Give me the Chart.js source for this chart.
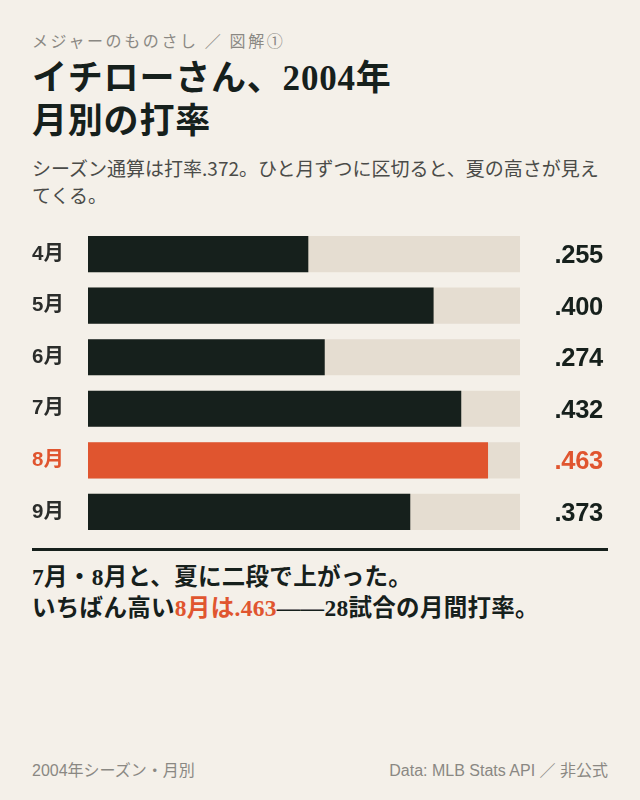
<!DOCTYPE html>
<html lang="ja">
<head>
<meta charset="utf-8">
<script src="https://cdn.jsdelivr.net/npm/chart.js@4/dist/chart.umd.min.js"></script>
<style>
  html, body { margin: 0; padding: 0; background: #f4f0e9; }
  body { width: 640px; height: 800px; position: relative; overflow: hidden; color: #16201c; font-family: "Noto Sans CJK JP", sans-serif; }
  .abs { position: absolute; left: 32px; white-space: nowrap; }
  .kicker { top: 30px; font-size: 16px; line-height: 20px; letter-spacing: 2.6px; color: #8a8883; }
  .title { top: 57px; font-family: "Liberation Serif", "Noto Sans CJK JP", serif; font-weight: 700; font-size: 35px; line-height: 43px; letter-spacing: 0.8px; }
  .sub { top: 154px; font-size: 19px; line-height: 27px; color: #4a4b48; }
  .chart-wrap { position: absolute; left: 0; top: 216px; width: 640px; height: 334px; }
  .rule { position: absolute; left: 32px; top: 548px; width: 576px; height: 3px; background: #16201c; }
  .note { top: 562px; font-family: "Liberation Serif", "Noto Sans CJK JP", serif; font-weight: 700; font-size: 23.5px; line-height: 31px; letter-spacing: 0.3px; }
  .note em { font-style: normal; color: #e0552f; }
  .foot { top: 761px; font-family: "Liberation Sans", "Noto Sans CJK JP", sans-serif; font-size: 16px; line-height: 20px; color: #8a8883; }
  .foot--r { left: auto; right: 32px; }
</style>
</head>
<body>
  <div class="abs kicker">メジャーのものさし ／ 図解①</div>
  <div class="abs title">イチローさん、2004年<br>月別の打率</div>
  <div class="abs sub">シーズン通算は打率.372。ひと月ずつに区切ると、夏の高さが見え<br>てくる。</div>
  <div class="chart-wrap"><canvas id="c"></canvas></div>
  <div class="rule"></div>
  <div class="abs note">7月・8月と、夏に二段で上がった。<br>いちばん高い<em>8月は.463</em>——28試合の月間打率。</div>
  <div class="abs foot">2004年シーズン・月別</div>
  <div class="abs foot foot--r">Data: MLB Stats API ／ 非公式</div>

<script>
// monthly batting average, 2004
const MONTHS = ["4月", "5月", "6月", "7月", "8月", "9月"];
const AVG = [0.255, 0.400, 0.274, 0.432, 0.463, 0.373];
const TRACK = [0.5, 0.5, 0.5, 0.5, 0.5, 0.5];
const AXIS_MAX = 0.5;
const HIGHLIGHT = "8月";

const INK = "#16201c", ORANGE = "#e0552f", TRACK_BG = "#e5ddd1", LABEL = "#2b2d2b";
const isHi = (i) => MONTHS[i] === HIGHLIGHT;
const fmt = (v) => v.toFixed(3).replace(/^0/, "");

// right-hand value column, lined up on each bar's centre
const valueLabels = {
  id: "valueLabels",
  afterDatasetsDraw(chart) {
    const ctx = chart.ctx;
    ctx.save();
    ctx.font = '700 25.5px "Liberation Sans", Arial, sans-serif';
    ctx.textAlign = "right";
    ctx.textBaseline = "middle";
    if ("letterSpacing" in ctx) ctx.letterSpacing = "-0.3px";
    chart.getDatasetMeta(0).data.forEach((bar, i) => {
      ctx.fillStyle = isHi(i) ? ORANGE : INK;
      ctx.fillText(fmt(AVG[i]), chart.width - 37, bar.y + 2);
    });
    ctx.restore();
  },
};

new Chart(document.getElementById("c"), {
  type: "bar",
  data: {
    labels: MONTHS,
    datasets: [
      { data: AVG, backgroundColor: AVG.map((_, i) => (isHi(i) ? ORANGE : INK)), order: 0 },
      { data: TRACK, backgroundColor: TRACK_BG, order: 1 },
    ],
  },
  options: {
    indexAxis: "y",
    responsive: true, maintainAspectRatio: false,
    animation: false,
    layout: { padding: { left: 32, right: 120, top: 0, bottom: 0 } },
    datasets: { bar: { grouped: false, categoryPercentage: 1, barPercentage: 0.7, borderWidth: 0 } },
    plugins: { legend: { display: false }, tooltip: { enabled: false } },
    scales: {
      x: { display: false, min: 0, max: AXIS_MAX },
      y: {
        grid: { display: false }, border: { display: false },
        afterFit(s) { s.width = 56; },
        ticks: {
          crossAlign: "far", padding: 0,
          color: (c) => (isHi(c.index) ? ORANGE : LABEL),
          font: { family: '"Liberation Sans", "Noto Sans CJK JP", sans-serif', size: 20.5, weight: "700" },
        },
      },
    },
  },
  plugins: [valueLabels],
});
</script>
</body>
</html>
